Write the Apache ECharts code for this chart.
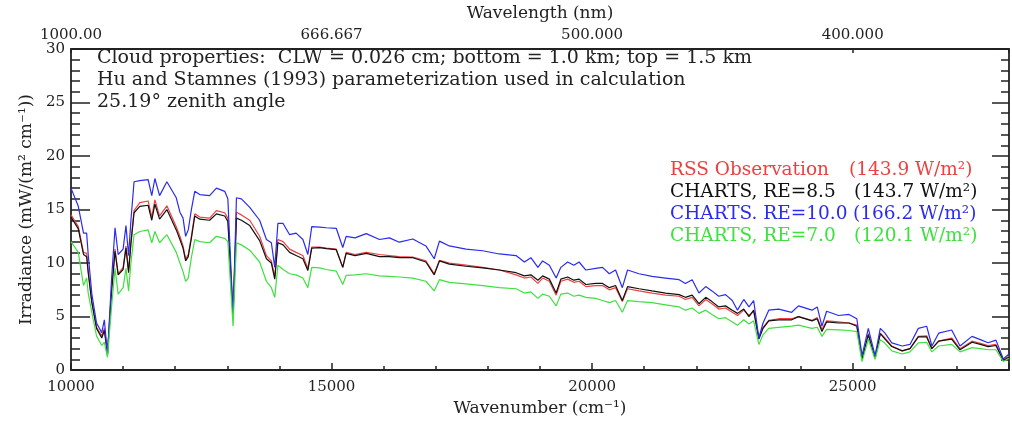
<!DOCTYPE html>
<html>
<head>
<meta charset="utf-8">
<title>Irradiance</title>
<script src="https://cdn.jsdelivr.net/npm/echarts@6/dist/echarts.min.js"></script>
<style>
    html, body { margin: 0; padding: 0; background: #fff; }
    #linecontainer { width: 1012px; height: 422px; }
</style>
</head>
<body>
<div id="linecontainer"></div>
<script>
// wavenumber (cm-1) sample points
var wavenumber = [10000, 10140, 10240, 10300, 10330, 10400, 10490, 10590, 10640, 10700, 10780, 10845, 10905, 11000, 11055, 11105,
    11150, 11210, 11320, 11480, 11550, 11610, 11700, 11840, 12020, 12090, 12150, 12200, 12250, 12310, 12375, 12470, 12660, 12790, 12950, 13010,
    13110, 13175, 13270, 13430, 13620, 13750, 13845, 13910, 13970, 14070, 14195, 14320, 14450, 14545,
    14620, 14770, 14900, 15090, 15215, 15280, 15450, 15665, 15920, 16110, 16300, 16560, 16810, 16970, 17070, 17260, 17580, 17900, 18220,
    18540, 18700, 18825, 18960, 19050, 19180, 19310, 19400, 19530, 19650, 19750, 19880, 20070, 20200, 20330, 20450, 20580, 20680, 20900, 21150,
    21410, 21670, 21790, 21920, 22050, 22180, 22300, 22430, 22560, 22690, 22790,
    22910, 23010, 23100, 23200, 23280, 23390, 23580, 23830, 23960, 24220, 24320, 24410, 24500, 24730, 24930, 25080,
    25180, 25300, 25430, 25530, 25620, 25750, 25950, 26100, 26260, 26420, 26520, 26650, 26900, 27060, 27290, 27450, 27600, 27750, 27890, 28000];

// RSS Observation
var rssObs = [14.5, 13.4, 11.0, 10.9, 9.3, 6.4, 4.0, 3.2, 3.9, 1.5, 7.6, 11.3, 9.0, 9.6, 11.6, 9.3,
    12.0, 14.9, 15.65, 15.8, 14.3, 15.9, 14.4, 15.35, 13.4, 12.5, 11.6, 10.4, 10.8, 12.5, 14.6, 14.3, 14.2, 14.9, 14.7, 14.2,
    5.3, 14.75, 14.5, 14.0, 12.5, 10.7, 10.2, 8.7, 12.2, 12.0, 11.3, 11.0, 10.7, 9.5,
    11.5, 11.5, 11.4, 11.3, 9.6, 11.0, 10.8, 11.0, 10.8, 10.7, 10.6, 10.55, 10.2, 9.0, 10.25, 10.0, 9.8, 9.6, 9.35,
    8.9, 8.6, 8.7, 8.1, 8.6, 8.3, 7.0, 8.3, 8.5, 8.2, 8.3, 7.8, 7.9, 7.9, 7.5, 7.7, 6.4, 7.6, 7.4, 7.2,
    7.0, 6.9, 6.6, 6.8, 6.0, 6.6, 6.2, 5.7, 5.8, 5.4, 5.1,
    5.6, 5.1, 5.5, 3.0, 4.0, 4.65, 4.8, 4.8, 5.0, 4.65, 4.9, 3.8, 4.6, 4.5, 4.4, 4.2,
    1.05, 3.4, 1.2, 3.45, 3.0, 2.25, 1.8, 2.0, 3.15, 3.2, 2.0, 2.7, 3.0, 2.0, 2.7, 2.5, 2.3, 2.4, 1.0, 1.3];

// CHARTS, RE=8.5
var chartsRe85 = [14.3, 13.2, 10.8, 10.6, 9.1, 6.3, 3.9, 3.0, 3.7, 1.5, 7.4, 11.1, 8.9, 9.4, 11.4, 9.1,
    11.8, 14.7, 15.3, 15.4, 14.0, 15.5, 14.1, 15.0, 13.1, 12.2, 11.4, 10.2, 10.6, 12.3, 14.4, 14.1, 14.0, 14.6, 14.4, 13.9,
    5.0, 14.2, 14.0, 13.5, 12.1, 10.4, 10.0, 8.5, 11.9, 11.7, 11.0, 10.7, 10.4, 9.3,
    11.4, 11.45, 11.35, 11.25, 9.6, 10.9, 10.7, 10.9, 10.6, 10.6, 10.5, 10.5, 10.1, 8.9, 10.2, 9.9, 9.7, 9.55, 9.35,
    9.1, 8.8, 8.9, 8.4, 8.8, 8.5, 7.2, 8.5, 8.7, 8.4, 8.5, 8.0, 8.1, 8.1, 7.7, 7.9, 6.5, 7.8, 7.6, 7.4,
    7.2, 7.05, 6.8, 7.0, 6.2, 6.8, 6.4, 5.9, 6.0, 5.6, 5.3,
    5.7, 5.0, 5.6, 2.9, 3.9, 4.6, 4.7, 4.7, 5.0, 4.6, 4.8, 3.6, 4.5, 4.4, 4.4, 4.1,
    1.0, 3.3, 1.1, 3.4, 2.9, 2.2, 1.8, 2.0, 3.1, 3.1, 2.0, 2.7, 2.9, 1.9, 2.6, 2.4, 2.2, 2.3, 0.9, 1.2];

// CHARTS, RE=10.0
var chartsRe10 = [17.0, 15.3, 12.8, 12.8, 10.8, 7.1, 4.4, 3.5, 4.7, 1.4, 8.6, 13.3, 10.8, 11.3, 13.5, 10.7,
    14.0, 17.6, 17.7, 17.8, 16.3, 17.9, 16.3, 17.6, 16.1, 14.75, 14.2, 12.5, 13.1, 15.0, 16.7, 16.4, 16.3, 17.0, 16.7, 16.0,
    5.0, 16.1, 16.0, 15.2, 14.0, 12.2, 11.9, 9.6, 13.7, 13.7, 12.65, 12.8, 12.2, 10.8,
    13.4, 13.35, 13.3, 13.25, 11.45, 12.5, 12.35, 12.75, 12.2, 12.35, 11.95, 12.25, 11.6, 10.4, 12.05, 11.6, 11.3, 11.15, 10.85,
    10.7, 10.1, 10.5, 9.6, 10.2, 9.8, 8.6, 9.6, 10.1, 9.8, 10.1, 9.35, 9.5, 9.6, 9.0, 9.35, 7.7, 9.35, 9.0, 8.75,
    8.6, 8.45, 8.1, 8.45, 7.2, 7.8, 7.4, 6.9, 7.05, 6.5, 5.6,
    6.6, 5.9, 6.5, 3.0, 4.4, 5.6, 5.7, 5.4, 6.0, 5.6, 5.9, 4.1, 5.5, 5.1, 5.2, 4.8,
    1.35, 3.9, 1.35, 3.9, 3.45, 2.55, 2.25, 2.4, 3.9, 4.1, 2.25, 3.45, 3.75, 2.25, 3.15, 2.85, 2.55, 2.8, 1.05, 1.5];

// CHARTS, RE=7.0
var chartsRe7 = [12.0, 11.0, 7.9, 8.6, 7.2, 5.4, 3.2, 2.3, 2.6, 1.2, 6.0, 9.5, 7.1, 7.7, 9.5, 7.4,
    10.0, 12.65, 12.95, 13.1, 11.9, 12.95, 11.9, 12.65, 11.0, 10.0, 9.2, 8.3, 8.6, 10.5, 12.2, 12.0, 11.9, 12.5, 12.3, 12.0,
    4.1, 11.9, 11.7, 11.2, 10.1, 8.3, 7.7, 6.8, 9.8, 9.4, 9.0, 8.9, 8.6, 7.7,
    9.6, 9.55, 9.4, 9.25, 8.0, 8.85, 8.9, 9.0, 8.8, 8.75, 8.7, 8.6, 8.3, 7.4, 8.45, 8.2, 8.05, 7.9, 7.7,
    7.6, 7.2, 7.3, 6.7, 7.1, 6.9, 6.0, 7.1, 7.2, 6.9, 7.0, 6.8, 6.7, 6.5, 6.3, 6.5, 5.4, 6.5, 6.4, 6.3,
    6.1, 5.9, 5.6, 5.8, 5.3, 5.6, 5.2, 4.8, 4.9, 4.5, 4.2,
    4.7, 4.3, 4.6, 2.4, 3.3, 3.9, 4.0, 4.1, 4.2, 3.9, 4.0, 3.15, 3.8, 3.75, 3.7, 3.6,
    0.8, 2.9, 1.0, 2.85, 2.5, 1.8, 1.5, 1.7, 2.55, 2.6, 1.7, 2.25, 2.4, 1.7, 2.1, 2.0, 1.9, 1.9, 0.8, 1.1];

// top axis labels (wavelength in nm) at wavenumber 10000, 15000, 20000, 25000
var wavelengthLabels = ['1000.00', '666.667', '500.000', '400.000'];

var seriesNames = ['RSS Observation', 'CHARTS, RE=8.5', 'CHARTS. RE=10.0', 'CHARTS, RE=7.0'];
var seriesFlux = ['(143.9 W/m\u00b2)', '(143.7 W/m\u00b2)', '(166.2 W/m\u00b2)', '(120.1 W/m\u00b2)'];
var seriesColors = ['#ee4040', '#111111', '#2b2bf0', '#3fe03f'];

var noteLines = [
    'Cloud properties:  CLW = 0.026 cm; bottom = 1.0 km; top = 1.5 km',
    'Hu and Stamnes (1993) parameterization used in calculation',
    '25.19\u00b0 zenith angle'
];

(function () {
    "use strict";
    var FONT = '"DejaVu Serif", "Liberation Serif", serif';
    var INK = '#222';

    function pairs(ys) {
        return wavenumber.map(function (x, i) { return [x, ys[i]]; });
    }

    function line(idx, ys, z) {
        return {
            name: seriesNames[idx],
            type: 'line',
            xAxisIndex: 0,
            yAxisIndex: 0,
            data: pairs(ys),
            symbol: 'none',
            z: z,
            lineStyle: { color: seriesColors[idx], width: 1.2 },
            itemStyle: { color: seriesColors[idx] }
        };
    }

    var graphics = [];
    // annotation text, upper left
    for (var i = 0; i < noteLines.length; i++) {
        graphics.push({
            type: 'text', left: 97, top: 49 + i * 21.6,
            style: { text: noteLines[i], font: '19px ' + FONT, fill: INK }
        });
    }
    // legend, two columns
    var fluxX = [849, 854, 853, 854];
    for (var k = 0; k < seriesNames.length; k++) {
        graphics.push({
            type: 'text', left: 670, top: 161 + k * 21.8,
            style: { text: seriesNames[k], font: '18.5px ' + FONT, fill: seriesColors[k] }
        });
        graphics.push({
            type: 'text', left: fluxX[k], top: 161 + k * 21.8,
            style: { text: seriesFlux[k], font: '18.5px ' + FONT, fill: seriesColors[k] }
        });
    }

    var axisLine = { show: true, onZero: false, lineStyle: { color: INK, width: 1.8 } };
    var labelStyle = { fontFamily: FONT, fontSize: 15, color: INK };
    var nameStyle = { fontFamily: FONT, fontSize: 17, color: INK };

    var lineChart = echarts.init(document.getElementById('linecontainer'));
    var lineoption = {
        animation: false,
        backgroundColor: '#fff',
        grid: { left: 71, right: 3, top: 43, bottom: 47 },
        xAxis: [
            {
                type: 'value', position: 'bottom',
                min: 10000, max: 28000, interval: 5000,
                name: 'Wavenumber (cm\u207b\u00b9)', nameLocation: 'middle', nameGap: 29,
                nameTextStyle: nameStyle,
                axisLine: axisLine,
                axisTick: { inside: true, length: 7, lineStyle: { color: INK, width: 1.5 } },
                minorTick: { show: true, splitNumber: 5, length: 4, lineStyle: { color: INK, width: 1.5 } },
                splitLine: { show: false },
                axisLabel: Object.assign({ margin: 10, formatter: function (v) { return v % 5000 === 0 ? String(v) : ''; } }, labelStyle)
            },
            {
                type: 'value', position: 'top',
                min: 10000, max: 28000, interval: 5000,
                name: 'Wavelength (nm)', nameLocation: 'middle', nameGap: 27,
                nameTextStyle: nameStyle,
                axisLine: axisLine,
                axisTick: { inside: true, length: 4, lineStyle: { color: INK, width: 1.5 } },
                splitLine: { show: false },
                axisLabel: Object.assign({ margin: 6, formatter: function (v) {
                    var idx = (v - 10000) / 5000;
                    return wavelengthLabels[idx] || '';
                } }, labelStyle)
            }
        ],
        yAxis: [
            {
                type: 'value', position: 'left',
                min: 0, max: 30, interval: 5,
                name: 'Irradiance (mW/(m\u00b2 cm\u207b\u00b9))', nameLocation: 'middle', nameGap: 35,
                nameTextStyle: nameStyle,
                axisLine: axisLine,
                axisTick: { inside: true, length: 19, lineStyle: { color: INK, width: 1.5 } },
                minorTick: { show: true, splitNumber: 5, length: 9, lineStyle: { color: INK, width: 1.5 } },
                splitLine: { show: false },
                axisLabel: Object.assign({ margin: 6 }, labelStyle)
            },
            {
                type: 'value', position: 'right',
                min: 0, max: 30, interval: 5,
                axisLine: axisLine,
                axisTick: { inside: true, length: 17, lineStyle: { color: INK, width: 1.5 } },
                minorTick: { show: true, splitNumber: 5, length: 8, lineStyle: { color: INK, width: 1.5 } },
                splitLine: { show: false },
                axisLabel: { show: false }
            }
        ],
        series: [
            line(0, rssObs, 2),
            line(1, chartsRe85, 3),
            line(2, chartsRe10, 4),
            line(3, chartsRe7, 5)
        ],
        graphic: graphics
    };
    lineChart.setOption(lineoption);
})();
</script>
</body>
</html>
